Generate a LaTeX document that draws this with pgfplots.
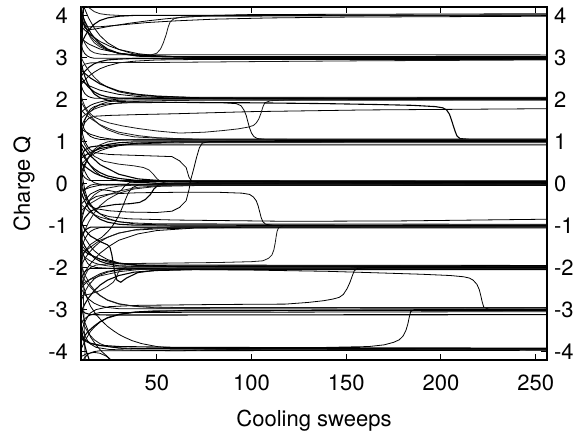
\documentclass[border=0pt]{standalone}
\usepackage{fontspec}
\setmainfont{TeX Gyre Heros}
\usepackage{pgfplots}
\pgfplotsset{compat=1.18}
\begin{document}
\begin{tikzpicture}[font=\fontsize{11}{13.2}\selectfont]
\path[use as bounding box] (-40.5pt,-38.5pt) rectangle (246.5pt,180pt);
\begin{axis}[
  scale only axis, width=233pt, height=176.5pt,
  xmin=10, xmax=256, ymin=-4.2, ymax=4.2,
  xtick={50,100,150,200,250}, ytick={-4,-3,-2,-1,0,1,2,3,4},
  tick align=inside, major tick length=3pt,
  tick style={black, line width=0.5pt},
  axis line style={black, line width=0.6pt},
  /pgf/number format/assume math mode=true,
  xticklabel style={yshift=-3.8pt},
  yticklabel style={xshift=-3pt},
  xlabel={Cooling sweeps}, ylabel={Charge Q},
  xlabel style={yshift=-3pt},
  cycle list={{black!90, line width=0.55pt, mark=none, solid}},
  clip=true,
]
% ---- level 4
\addplot coordinates {(10,4.5)(12,4.3)(14,4.19)(17,4.09)(20,4.04)(24,4.015)(30,4.0)(256,4.0)};
\addplot coordinates {(10,3.3)(12,3.5)(14,3.65)(17,3.79)(20,3.88)(24,3.94)(30,3.98)(38,4.0)(256,4.01)};
\addplot coordinates {(10,4.1)(11,3.85)(12,3.7)(14,3.66)(18,3.68)(25,3.74)(35,3.81)(45,3.87)(55,3.92)(65,3.96)(80,4.0)(100,4.02)(256,4.04)};
\addplot coordinates {(10,3.95)(11,3.82)(13,3.73)(20,3.73)(30,3.77)(45,3.83)(60,3.87)(80,3.91)(110,3.94)(150,3.96)(256,3.98)};
\addplot coordinates {(10,4.3)(11,4.0)(12,3.8)(13.5,3.6)(15,3.47)(17,3.35)(20,3.25)(24,3.17)(30,3.1)(36,3.07)(42,3.05)(47,3.06)(50,3.1)(52,3.2)(53.5,3.35)(55,3.55)(56,3.72)(57,3.84)(59,3.92)(63,3.96)(75,3.98)(256,4.0)};
\addplot coordinates {(10,2.6)(10.5,3.3)(11,3.9)(11.4,4.3)};
% ---- level 3
\addplot coordinates {(10,4.4)(12,4.15)(14,3.94)(17,3.7)(20,3.52)(24,3.35)(30,3.19)(38,3.08)(50,3.025)(70,3.0)(256,3.0)};
\addplot coordinates {(10,3.95)(12,3.75)(15,3.51)(17,3.41)(20,3.29)(24,3.18)(30,3.09)(40,3.04)(60,3.02)(256,3.02)};
\addplot coordinates {(10,3.6)(11,3.45)(12,3.34)(13.5,3.23)(15,3.16)(17,3.11)(20,3.08)(24,3.065)(256,3.06)};
\addplot coordinates {(10,2.55)(12,2.67)(14,2.76)(17,2.85)(20,2.9)(24,2.94)(30,2.96)(38,2.975)(256,2.98)};
\addplot coordinates {(10,2.35)(12,2.46)(14,2.55)(17,2.65)(20,2.73)(24,2.8)(30,2.87)(38,2.91)(50,2.94)(70,2.95)(256,2.95)};
\addplot coordinates {(10,3.3)(11,3.17)(12,3.09)(13.5,3.03)(15,3.0)(17,2.98)(256,2.97)};
\addplot coordinates {(10,2.75)(12,2.84)(15,2.87)(25,2.88)(50,2.88)(100,2.9)(160,2.92)(256,2.94)};
\addplot coordinates {(10,4.1)(12,3.86)(15,3.59)(17,3.47)(20,3.33)(24,3.2)(30,3.1)(40,3.03)(60,3.01)(256,3.01)};
\addplot coordinates {(10,3.75)(12,3.65)(15,3.54)(20,3.38)(25,3.27)(30,3.19)(40,3.09)(50,3.04)(70,3.0)(100,2.99)(256,2.99)};
\addplot coordinates {(10,3.45)(14,3.32)(20,3.2)(30,3.1)(40,3.05)(60,3.02)(256,3.01)};
% ---- level 2
\addplot coordinates {(10,3.0)(12,2.83)(14,2.69)(17,2.53)(20,2.4)(24,2.29)(30,2.18)(38,2.11)(50,2.07)(70,2.05)(256,2.05)};
\addplot coordinates {(10,2.7)(12,2.62)(15,2.51)(20,2.37)(25,2.28)(30,2.2)(40,2.12)(50,2.08)(70,2.04)(100,2.03)(256,2.03)};
\addplot coordinates {(10,1.35)(12,1.53)(14,1.67)(17,1.8)(20,1.88)(24,1.94)(30,1.98)(38,1.99)(256,2.0)};
\addplot coordinates {(10,2.35)(11,2.22)(12,2.14)(13.5,2.08)(15,2.05)(17,2.03)(256,2.02)};
\addplot coordinates {(10,1.55)(12,1.63)(14,1.69)(17,1.77)(20,1.82)(24,1.87)(30,1.92)(38,1.95)(50,1.97)(70,1.98)(256,1.98)};
\addplot coordinates {(10,2.55)(12,2.4)(14,2.29)(17,2.18)(20,2.11)(24,2.06)(30,2.03)(256,2.01)};
\addplot coordinates {(10,1.0)(11,1.3)(12,1.5)(13.5,1.67)(15,1.77)(17,1.83)(20,1.87)(25,1.9)(35,1.92)(60,1.93)(85,1.92)(92,1.9)(94.5,1.85)(96,1.75)(97.2,1.62)(98.2,1.45)(99,1.32)(100,1.2)(101.2,1.12)(103,1.07)(108,1.05)(256,1.04)};
\addplot coordinates {(10,1.15)(11,1.33)(12,1.45)(14,1.55)(17,1.6)(25,1.62)(40,1.64)(60,1.66)(100,1.71)(160,1.75)(256,1.78)};
\addplot coordinates {(10,2.1)(11,1.95)(12,1.84)(14,1.7)(17,1.58)(21,1.5)(25,1.44)(32,1.37)(40,1.31)(50,1.25)(62,1.2)(75,1.22)(85,1.26)(93,1.3)(98,1.34)(101,1.38)(102.5,1.44)(103.8,1.53)(105,1.67)(106,1.82)(107,1.92)(110,1.97)(120,1.99)(256,2.0)};
\addplot coordinates {(10,2.9)(11,2.7)(12,2.55)(13.5,2.38)(15,2.25)(17,2.13)(20,2.04)(25,1.97)(35,1.94)(60,1.93)(100,1.92)(140,1.9)(165,1.88)(185,1.86)(197,1.83)(201,1.8)(203,1.75)(204.5,1.65)(205.5,1.52)(206.5,1.38)(207.5,1.24)(208.5,1.13)(210,1.07)(215,1.05)(256,1.05)};
\addplot coordinates {(10,1.7)(12,1.77)(15,1.86)(17,1.9)(20,1.94)(24,1.98)(30,2.01)(40,2.03)(256,2.04)};
\addplot coordinates {(10,2.45)(14,2.33)(20,2.22)(30,2.12)(40,2.07)(60,2.03)(100,2.01)(256,2.01)};
% ---- level 1
\addplot coordinates {(10,1.95)(12,1.79)(14,1.66)(17,1.51)(20,1.39)(24,1.28)(30,1.18)(38,1.11)(50,1.08)(70,1.06)(256,1.06)};
\addplot coordinates {(10,0.25)(12,0.46)(14,0.62)(17,0.77)(20,0.86)(24,0.93)(30,0.97)(38,0.99)(256,1.0)};
\addplot coordinates {(10,1.5)(11,1.37)(12,1.27)(13.5,1.18)(15,1.12)(17,1.08)(20,1.05)(24,1.04)(256,1.03)};
\addplot coordinates {(10,0.45)(12,0.54)(14,0.62)(17,0.71)(20,0.78)(24,0.84)(30,0.9)(38,0.94)(50,0.96)(70,0.97)(256,0.97)};
\addplot coordinates {(10,1.75)(12,1.66)(15,1.55)(20,1.4)(25,1.3)(30,1.22)(40,1.14)(50,1.09)(70,1.05)(100,1.04)(256,1.04)};
\addplot coordinates {(10,0.65)(12,0.8)(15,0.87)(20,0.9)(30,0.92)(256,0.92)};
\addplot coordinates {(10,0.2)(11,-0.1)(12,-0.3)(13.5,-0.45)(15,-0.54)(18,-0.6)(25,-0.65)(35,-0.68)(50,-0.69)(58,-0.66)(62,-0.57)(65.5,-0.41)(67,-0.15)(68,0.1)(69.5,0.35)(71,0.62)(72.5,0.85)(74,0.96)(78,1.0)(256,1.01)};
\addplot coordinates {(10,1.3)(12,1.24)(15,1.17)(20,1.1)(24,1.07)(30,1.04)(40,1.03)(256,1.02)};
\addplot coordinates {(10,0.1)(11,0.27)(12,0.41)(13.5,0.58)(15,0.7)(17,0.81)(20,0.92)(24,0.99)(30,1.03)(40,1.05)(256,1.05)};
\addplot coordinates {(10,0.6)(14,0.72)(20,0.83)(30,0.92)(40,0.96)(60,0.99)(256,1.0)};
% ---- level 0
\addplot coordinates {(10,1.35)(11,1.15)(12,1.0)(13.5,0.88)(15,0.8)(18,0.73)(25,0.69)(45,0.66)(58,0.64)(62,0.54)(65.5,0.38)(67,0.15)(68.5,0.05)(72,0.02)(256,0.01)};
\addplot coordinates {(10,0.9)(12,0.66)(14,0.48)(17,0.31)(20,0.2)(24,0.13)(30,0.07)(38,0.05)(256,0.04)};
\addplot coordinates {(10,-0.8)(12,-0.58)(14,-0.42)(17,-0.27)(20,-0.18)(24,-0.11)(30,-0.06)(38,-0.04)(256,-0.03)};
\addplot coordinates {(10,0.5)(12,0.41)(14,0.34)(17,0.25)(20,0.19)(24,0.13)(30,0.07)(38,0.03)(50,0.01)(256,0.0)};
\addplot coordinates {(10,-0.4)(11,-0.25)(12,-0.15)(13.5,-0.08)(15,-0.04)(17,-0.02)(256,-0.01)};
\addplot coordinates {(10,0.3)(11,0.2)(12,0.14)(13.5,0.09)(15,0.07)(256,0.05)};
\addplot coordinates {(10,-1.35)(12,-1.12)(14,-0.92)(17,-0.7)(20,-0.53)(24,-0.38)(30,-0.23)(38,-0.13)(50,-0.07)(70,-0.05)(256,-0.05)};
\addplot coordinates {(10,0.75)(12,0.6)(15,0.43)(17,0.35)(20,0.26)(24,0.18)(30,0.12)(40,0.07)(60,0.06)(256,0.06)};
\addplot coordinates {(10,-0.2)(12,-0.14)(15,-0.09)(20,-0.04)(30,-0.02)(256,-0.02)};
\addplot coordinates {(10,-1.8)(12,-1.62)(15,-1.45)(18,-1.36)(21,-1.28)(24,-1.15)(26,-1.05)(28,-0.92)(30,-0.76)(32,-0.55)(33.5,-0.38)(35,-0.22)(37,-0.1)(40,-0.04)(50,0.0)(256,0.03)};
\addplot coordinates {(10,1.15)(12,0.92)(14,0.78)(17,0.65)(22,0.53)(30,0.46)(38,0.42)(43,0.38)(46,0.32)(48,0.23)(50,0.12)(52,0.04)(56,0.0)(256,-0.02)};
\addplot coordinates {(10,-1.0)(12,-0.82)(15,-0.66)(20,-0.56)(28,-0.5)(36,-0.48)(41,-0.45)(44,-0.38)(46.5,-0.27)(48.5,-0.13)(51,-0.03)(56,0.01)(256,0.02)};
\addplot coordinates {(10,0.6)(11,0.42)(12,0.29)(13.5,0.16)(15,0.08)(17,0.02)(20,-0.02)(24,-0.035)(256,-0.04)};
\addplot coordinates {(10,-0.5)(15,-0.25)(20,-0.14)(25,-0.17)(29.6,-0.21)(31.5,-0.15)(33.2,-0.05)(36,0.03)(40,0.05)(256,0.05)};
\addplot coordinates {(10,-0.65)(14,-0.5)(20,-0.34)(30,-0.18)(40,-0.09)(60,-0.03)(256,-0.01)};
\addplot coordinates {(10,0.95)(14,0.7)(20,0.45)(30,0.22)(40,0.11)(60,0.04)(256,0.03)};
% ---- level -1
\addplot coordinates {(10,0.45)(11,0.1)(12,-0.15)(13.5,-0.38)(15,-0.52)(17,-0.63)(20,-0.72)(25,-0.79)(35,-0.84)(60,-0.87)(120,-0.9)(180,-0.89)(256,-0.85)};
\addplot coordinates {(10,-0.95)(11,-0.75)(12,-0.6)(13.5,-0.47)(15,-0.39)(18,-0.31)(25,-0.25)(40,-0.22)(60,-0.21)(83,-0.21)(95,-0.23)(99,-0.26)(101,-0.32)(102.5,-0.41)(103.5,-0.53)(104.3,-0.67)(105.1,-0.81)(106,-0.91)(107.5,-0.97)(112,-1.0)(256,-1.01)};
\addplot coordinates {(10,-2.55)(11,-2.35)(12,-2.2)(13.5,-2.07)(15,-2.0)(18,-1.94)(25,-1.91)(45,-1.9)(83,-1.88)(100,-1.86)(106,-1.84)(109,-1.78)(110.8,-1.7)(111.8,-1.58)(112.5,-1.42)(113,-1.27)(113.5,-1.14)(114.3,-1.05)(117,-1.01)(256,-0.99)};
\addplot coordinates {(10,-0.2)(12,-0.42)(14,-0.59)(17,-0.75)(20,-0.85)(24,-0.92)(30,-0.97)(38,-0.99)(256,-1.0)};
\addplot coordinates {(10,-1.6)(11,-1.44)(12,-1.32)(13.5,-1.21)(15,-1.14)(17,-1.09)(20,-1.05)(24,-1.04)(256,-1.03)};
\addplot coordinates {(10,-1.95)(12,-1.79)(14,-1.66)(17,-1.51)(20,-1.39)(24,-1.28)(30,-1.18)(38,-1.11)(50,-1.08)(70,-1.06)(256,-1.06)};
\addplot coordinates {(10,-0.5)(12,-0.58)(14,-0.66)(17,-0.74)(20,-0.8)(24,-0.85)(30,-0.91)(38,-0.94)(50,-0.96)(256,-0.97)};
\addplot coordinates {(10,-1.3)(11,-1.19)(12,-1.12)(13.5,-1.07)(15,-1.04)(256,-1.02)};
\addplot coordinates {(10,-2.25)(12,-2.1)(15,-1.91)(20,-1.66)(25,-1.49)(30,-1.35)(40,-1.2)(50,-1.12)(70,-1.06)(100,-1.04)(256,-1.04)};
\addplot coordinates {(10,-0.05)(12,-0.26)(15,-0.49)(17,-0.6)(20,-0.72)(24,-0.83)(30,-0.91)(40,-0.97)(60,-0.99)(256,-0.99)};
\addplot coordinates {(10,-1.7)(14,-1.55)(20,-1.35)(30,-1.18)(40,-1.09)(60,-1.03)(256,-1.02)};
% ---- level -2
\addplot coordinates {(10,-1.3)(12,-1.49)(14,-1.63)(17,-1.77)(20,-1.85)(24,-1.91)(30,-1.96)(38,-1.97)(256,-1.98)};
\addplot coordinates {(10,-2.8)(12,-2.58)(14,-2.42)(17,-2.27)(20,-2.18)(24,-2.11)(30,-2.06)(38,-2.04)(256,-2.03)};
\addplot coordinates {(10,-1.1)(12,-1.29)(15,-1.5)(17,-1.6)(20,-1.71)(24,-1.81)(30,-1.89)(40,-1.94)(60,-1.96)(256,-1.96)};
\addplot coordinates {(10,-2.67)(15,-2.63)(20,-2.55)(24,-2.45)(27,-2.35)(28.5,-2.25)(29.6,-2.12)(31,-2.04)(34,-1.99)(45,-1.97)(256,-1.97)};
\addplot coordinates {(10,-0.9)(12,-1.1)(15,-1.25)(20,-1.38)(24,-1.46)(25.3,-1.52)(26.3,-1.7)(27.2,-1.95)(27.9,-2.15)(29,-2.3)(31,-2.35)(34,-2.25)(40,-2.12)(50,-2.06)(70,-2.04)(256,-2.04)};
\addplot coordinates {(10,-1.45)(11,-1.65)(12,-1.78)(13.5,-1.9)(15,-1.96)(18,-2.0)(25,-2.02)(50,-2.04)(100,-2.06)(140,-2.09)(162,-2.12)(190,-2.16)(205,-2.19)(212,-2.22)(215,-2.25)(217,-2.3)(219,-2.4)(220.2,-2.52)(221,-2.66)(221.8,-2.82)(222.6,-2.94)(225,-2.99)(256,-3.0)};
\addplot coordinates {(10,-2.3)(11,-2.18)(12,-2.11)(13.5,-2.05)(15,-2.02)(256,-2.0)};
\addplot coordinates {(10,-1.65)(12,-1.75)(14,-1.82)(17,-1.89)(20,-1.93)(24,-1.96)(30,-1.99)(256,-2.0)};
\addplot coordinates {(10,-3.05)(12,-2.87)(14,-2.72)(17,-2.55)(20,-2.42)(24,-2.3)(30,-2.19)(38,-2.11)(50,-2.07)(70,-2.05)(256,-2.05)};
\addplot coordinates {(10,-1.45)(12,-1.56)(15,-1.69)(17,-1.74)(20,-1.8)(24,-1.87)(30,-1.91)(40,-1.94)(256,-1.95)};
\addplot coordinates {(10,-2.5)(12,-2.39)(15,-2.27)(20,-2.15)(24,-2.09)(30,-2.05)(40,-2.02)(256,-2.01)};
\addplot coordinates {(10,-2.4)(14,-2.3)(20,-2.2)(30,-2.1)(40,-2.05)(60,-2.02)(256,-2.02)};
\addplot coordinates {(10,-1.55)(14,-1.68)(20,-1.8)(30,-1.9)(40,-1.95)(60,-1.98)(256,-1.99)};
% ---- level -3
\addplot coordinates {(10,-3.6)(11,-3.42)(12,-3.3)(13.5,-3.17)(15,-3.08)(18,-3.0)(25,-2.93)(40,-2.9)(80,-2.88)(118,-2.87)(130,-2.83)(138,-2.79)(143,-2.75)(146.3,-2.71)(148.5,-2.64)(150.5,-2.5)(152,-2.35)(153.2,-2.2)(154.2,-2.08)(156,-2.02)(162,-2.0)(256,-2.0)};
\addplot coordinates {(10,-3.35)(11,-3.5)(12,-3.62)(13.5,-3.74)(15,-3.82)(18,-3.9)(25,-3.95)(40,-3.97)(62,-3.98)(100,-3.94)(140,-3.9)(162,-3.88)(170,-3.84)(175,-3.78)(178,-3.72)(180,-3.63)(181.5,-3.5)(182.5,-3.35)(183.3,-3.18)(184,-3.05)(186,-3.0)(256,-2.99)};
\addplot coordinates {(10,-2.15)(12,-2.3)(14,-2.42)(17,-2.56)(20,-2.67)(24,-2.77)(30,-2.86)(38,-2.92)(50,-2.96)(256,-2.97)};
\addplot coordinates {(10,-3.75)(12,-3.62)(14,-3.51)(17,-3.39)(20,-3.29)(24,-3.2)(30,-3.12)(38,-3.06)(50,-3.03)(256,-3.02)};
\addplot coordinates {(10,-2.5)(12,-2.64)(14,-2.75)(17,-2.85)(20,-2.91)(24,-2.95)(30,-2.98)(256,-3.0)};
\addplot coordinates {(10,-3.35)(11,-3.27)(12,-3.22)(13.5,-3.16)(15,-3.13)(17,-3.1)(20,-3.07)(256,-3.05)};
\addplot coordinates {(10,-1.95)(12,-2.17)(15,-2.42)(17,-2.53)(20,-2.66)(24,-2.78)(30,-2.87)(40,-2.93)(60,-2.95)(256,-2.95)};
\addplot coordinates {(10,-3.0)(12,-3.08)(15,-3.12)(25,-3.13)(256,-3.12)};
\addplot coordinates {(10,-3.95)(12,-3.75)(15,-3.52)(17,-3.42)(20,-3.3)(24,-3.19)(30,-3.11)(40,-3.06)(60,-3.03)(256,-3.01)};
% ---- level -4
\addplot coordinates {(10,-2.2)(11,-2.38)(12,-2.55)(13.5,-2.76)(15,-2.92)(18,-3.12)(21,-3.27)(24,-3.4)(27,-3.5)(30,-3.59)(33,-3.66)(37,-3.74)(42,-3.81)(50,-3.88)(60,-3.92)(80,-3.94)(256,-3.96)};
\addplot coordinates {(10,-3.2)(12,-3.41)(14,-3.57)(17,-3.72)(20,-3.81)(24,-3.88)(30,-3.92)(38,-3.94)(256,-3.95)};
\addplot coordinates {(10,-3.6)(12,-3.72)(15,-3.8)(20,-3.85)(30,-3.88)(60,-3.9)(256,-3.92)};
\addplot coordinates {(10,-4.3)(11,-4.21)(12,-4.14)(13.5,-4.07)(15,-4.03)(17,-4.0)(20,-3.98)(256,-3.97)};
\addplot coordinates {(10,-4.12)(13,-4.05)(17,-4.02)(20,-4.04)(23,-4.1)(25,-4.16)(27,-4.25)};
\addplot coordinates {(10,0.5)(10.5,-0.9)(11,-2.1)(11.5,-3.1)(12,-3.9)(12.3,-4.3)};
\addplot coordinates {(10,-3.4)(11,-3.65)(12,-3.85)(13,-4.02)(14,-4.15)(15,-4.3)};
\addplot coordinates {(10,-2.9)(12,-3.3)(15,-3.65)(18,-3.85)(21,-4.0)(24,-4.12)(26,-4.25)};
\addplot coordinates {(10,-3.7)(12,-3.75)(15,-3.81)(20,-3.86)(30,-3.91)(40,-3.93)(256,-3.93)};
\end{axis}
\begin{axis}[
  scale only axis, width=233pt, height=176.5pt,
  xmin=10, xmax=256, ymin=-4.2, ymax=4.2,
  axis x line=none, axis y line*=right,
  ytick={-4,-3,-2,-1,0,1,2,3,4},
  tick align=inside, major tick length=3pt,
  tick style={black, line width=0.5pt},
  axis line style={black, line width=0.6pt},
  /pgf/number format/assume math mode=true,
]
\addplot[draw=none] coordinates {(100,0)};
\end{axis}
\end{tikzpicture}
\end{document}
